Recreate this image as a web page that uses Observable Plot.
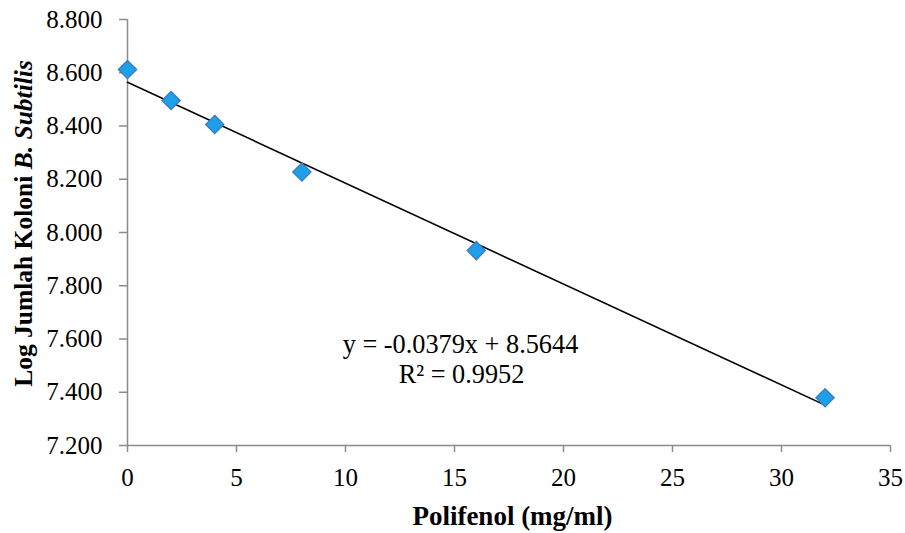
<!DOCTYPE html>
<html>
<head>
<meta charset="utf-8">
<script src="https://cdn.jsdelivr.net/npm/d3@7"></script>
<script src="https://cdn.jsdelivr.net/npm/@observablehq/plot@0.6"></script>
<style>
html,body{margin:0;padding:0;background:#fff;}
#chart{width:905px;height:533px;}
</style>
</head>
<body>
<div id="chart"></div>
<script>
const polifenol = [0, 2, 4, 8, 16, 32];
const logKoloni = [8.612, 8.496, 8.406, 8.227, 7.932, 7.379];
const xTicks = [0, 5, 10, 15, 20, 25, 30, 35];
const yTicks = [7.2, 7.4, 7.6, 7.8, 8.0, 8.2, 8.4, 8.6, 8.8];
const slope = -0.0379;
const intercept = 8.5644;
const trendX = [0, 32];
const eqLines = ["y = -0.0379x + 8.5644", "R² = 0.9952"];

const points = polifenol.map((x, i) => ({x, y: logKoloni[i]}));
const trend = trendX.map(x => ({x, y: slope * x + intercept}));

const font = "'Liberation Serif', 'Times New Roman', 'DejaVu Serif', serif";
const axisColor = "#8c8c8c";
const fs = 25;

const chart = Plot.plot({
  width: 905,
  height: 533,
  marginLeft: 127,
  marginRight: 15,
  marginTop: 19,
  marginBottom: 88,
  style: {fontFamily: font, background: "#fff"},
  x: {domain: [0, 35], label: null, axis: null},
  y: {domain: [7.2, 8.8], label: null, axis: null},
  marks: [
    Plot.ruleX([0], {stroke: axisColor, strokeWidth: 1.5}),
    Plot.ruleY([7.2], {stroke: axisColor, strokeWidth: 1.5}),
    Plot.axisX({ticks: xTicks, tickSize: 7, stroke: axisColor, strokeWidth: 1.5, tickFormat: () => "", label: null}),
    Plot.axisY({ticks: yTicks, tickSize: 8, stroke: axisColor, strokeWidth: 1.5, tickFormat: () => "", label: null}),
    Plot.text(xTicks, {x: d => d, frameAnchor: "bottom", dy: 32, lineAnchor: "middle", text: d => String(d), fontSize: fs, fontFamily: font, fill: "#000"}),
    Plot.text(yTicks, {y: d => d, frameAnchor: "left", dx: -25, textAnchor: "end", lineAnchor: "middle", text: d => d3.format(".3f")(d), fontSize: fs, fontFamily: font, fill: "#000"}),
    Plot.line(trend, {x: "x", y: "y", stroke: "#000", strokeWidth: 1.6}),
    Plot.dot(points, {x: "x", y: "y", symbol: "diamond2", r: 8.2, fill: "#1e9fe9", stroke: "#3c7ac2", strokeWidth: 1.3}),
    Plot.text([eqLines[0]], {frameAnchor: "top-left", dx: 460 - 127, dy: 344 - 19, lineAnchor: "middle", text: d => d, textAnchor: "middle", fontSize: 26.3, fontFamily: font, fill: "#000"}),
    Plot.text([eqLines[1]], {frameAnchor: "top-left", dx: 461 - 127, dy: 374 - 19, lineAnchor: "middle", text: d => d, textAnchor: "middle", fontSize: 26.3, fontFamily: font, fill: "#000"}),
    Plot.text(["Polifenol (mg/ml)"], {frameAnchor: "bottom", dx: 3.5, dy: 71, lineAnchor: "middle", text: d => d, fontWeight: "bold", fontSize: 27, fontFamily: font, fill: "#000"}),
  ]
});

const svg = d3.select(chart);
const yl = svg.append("text")
  .attr("transform", "translate(23,223.5) rotate(-90)")
  .attr("text-anchor", "middle")
  .attr("dy", "0.35em")
  .attr("font-family", font)
  .attr("font-size", 25.5)
  .attr("font-weight", "bold")
  .attr("fill", "#000");
yl.append("tspan").text("Log Jumlah Koloni ");
yl.append("tspan").attr("font-style", "italic").text("B. Subtilis");

document.getElementById("chart").appendChild(chart);
</script>
</body>
</html>
